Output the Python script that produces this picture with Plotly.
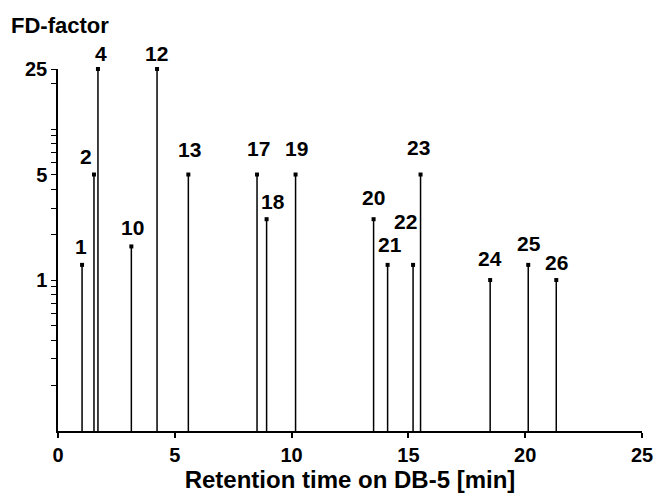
import math
import plotly.graph_objects as go

# ---- data ----
peak_ids = ["1", "2", "4", "10", "12", "13", "17", "18", "19", "20", "21", "22", "23", "24", "25", "26"]
retention = [1.03, 1.54, 1.71, 3.14, 4.24, 5.58, 8.52, 8.93, 10.17, 13.51, 14.11, 15.20, 15.52, 18.50, 20.13, 21.33]
fd_factor = [1.26, 5, 25, 1.67, 25, 5, 5, 2.53, 5, 2.53, 1.26, 1.26, 5, 1.0, 1.26, 1.0]

x_tickvals = [0, 5, 10, 15, 20, 25]
y_major = [1, 5, 25]
y_minor = [0.2, 0.3, 0.4, 0.5, 0.6, 0.7, 0.8, 0.9, 2, 3, 4, 6, 7, 8, 9, 10, 20]
y_floor = 0.1

# label placement offsets (pixels) – styling only
label_dx = [-1, -8, 3, 1, -1, 1, 1, 6, 1, 0, 2, -8, -2, 0, 1, 0]
label_dy = [18, 18, 16, 19, 16, 25, 26, 18, 26, 22, 20, 43, 27, 22, 21, 18]

FONT = "Liberation Sans, Arial, Helvetica, sans-serif"

# y ticks: majors labelled, minors unlabelled
y_all = sorted(y_major + y_minor)
y_text = [("%g" % v) if v in y_major else "" for v in y_all]

# stems
xs, ys = [], []
for x, y in zip(retention, fd_factor):
    xs += [x, x, None]
    ys += [y_floor, y, None]

fig = go.Figure()
fig.add_trace(go.Scatter(x=xs, y=ys, mode="lines",
                         line=dict(color="black", width=1.5),
                         hoverinfo="skip", showlegend=False, cliponaxis=False))
fig.add_trace(go.Scatter(x=retention, y=fd_factor, mode="markers",
                         marker=dict(color="black", size=4, symbol="square"),
                         showlegend=False, cliponaxis=False))

for pid, x, y, dx, dy in zip(peak_ids, retention, fd_factor, label_dx, label_dy):
    fig.add_annotation(x=x, y=math.log10(y), text=pid, showarrow=False,
                       xanchor="center", yanchor="middle",
                       xshift=dx, yshift=dy,
                       font=dict(family=FONT, size=21, color="black", weight="bold"))

fig.add_annotation(xref="paper", yref="paper", x=0, y=1, text="FD-factor",
                   showarrow=False, xanchor="left", yanchor="middle",
                   xshift=-49, yshift=44,
                   font=dict(family=FONT, size=22, color="black", weight="bold"))

fig.update_layout(
    width=656, height=494,
    margin=dict(l=58, r=14, t=69, b=63),
    paper_bgcolor="white", plot_bgcolor="white",
    font=dict(family=FONT, color="black"),
    xaxis=dict(range=[0, 25], tickmode="array", tickvals=x_tickvals,
               automargin=False,
               showline=True, linecolor="black", linewidth=1.5,
               ticks="outside", ticklen=5, tickwidth=1.5, tickcolor="black",
               showgrid=False, zeroline=False,
               tickfont=dict(family=FONT, size=20, weight="bold"),
               title=dict(text="Retention time on DB-5 [min]", standoff=4,
                          font=dict(family=FONT, size=24, weight="bold"))),
    yaxis=dict(type="log", range=[math.log10(y_floor), math.log10(25)],
               tickmode="array", tickvals=y_all, ticktext=y_text,
               automargin=False,
               showline=True, linecolor="black", linewidth=1.5,
               ticks="outside", ticklen=5, tickwidth=1.3, tickcolor="black",
               showgrid=False, zeroline=False,
               tickfont=dict(family=FONT, size=20, weight="bold")),
)

fig.write_html("out.html", config={"displayModeBar": False},
               post_script="document.body.style.margin='0';")
